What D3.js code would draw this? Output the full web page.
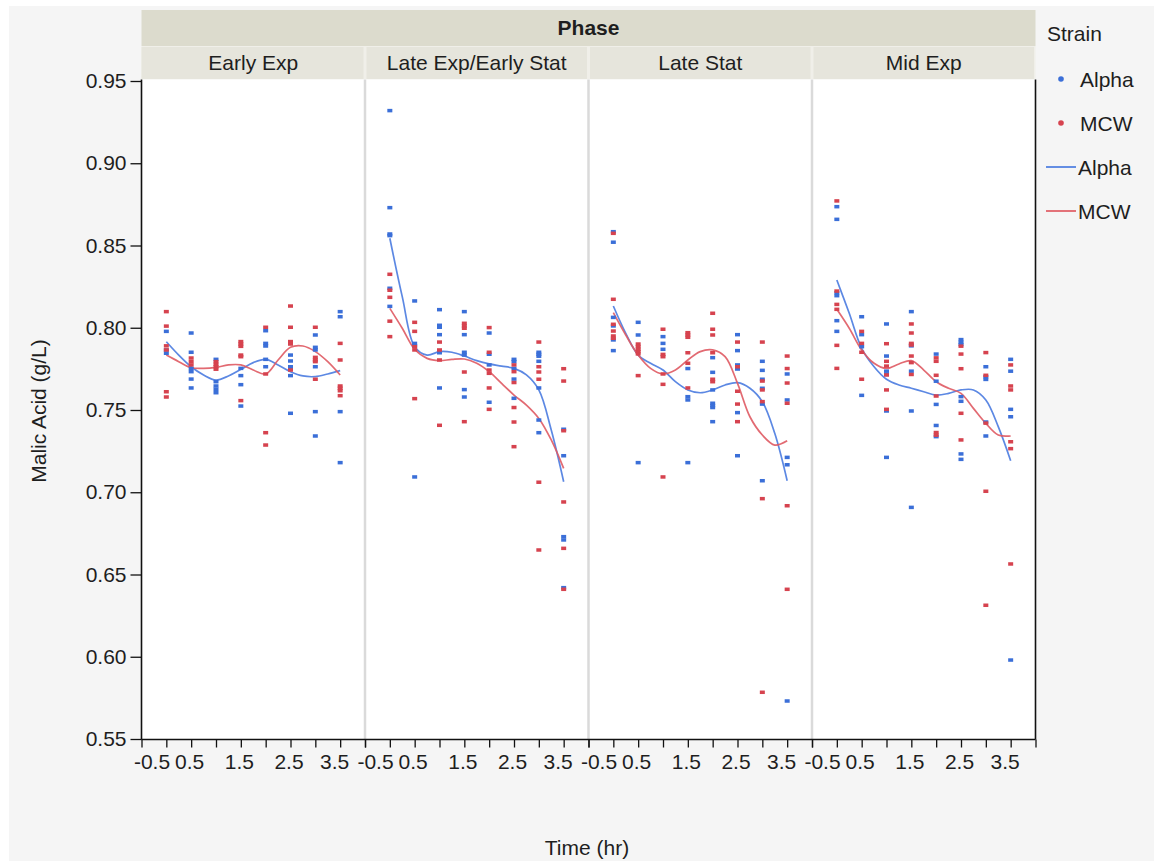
<!DOCTYPE html>
<html>
<head>
<meta charset="utf-8">
<script src="https://cdn.jsdelivr.net/npm/d3@7/dist/d3.min.js"></script>
<style>
  html, body { margin: 0; padding: 0; background: #ffffff; }
  svg text { font-family: "Liberation Sans", Arial, sans-serif; fill: #1e1e1e; }
</style>
</head>
<body>
<svg id="chart" width="1154" height="861"></svg>
<script>
// Phase panels, left to right
const phases = ["Early Exp", "Late Exp/Early Stat", "Late Stat", "Mid Exp"];
const strains = ["Alpha", "MCW"];

// Axis ticks
const xTicks = [-0.5, 0, 0.5, 1, 1.5, 2, 2.5, 3, 3.5, 4];
const xTickLabels = [-0.5, 0.5, 1.5, 2.5, 3.5];
const yTicks = [0.55, 0.60, 0.65, 0.70, 0.75, 0.80, 0.85, 0.90, 0.95];

// Observed malic acid (g/L) by time (hr): [time, [values...]]
const earlyExpAlpha = [
  [0,   [0.7978, 0.7865, 0.7845]],
  [0.5, [0.7968, 0.7851, 0.7753, 0.7733, 0.7688, 0.7634]],
  [1,   [0.7808, 0.7672, 0.7646, 0.7626, 0.7605]],
  [1.5, [0.7753, 0.7709, 0.7654, 0.7524]],
  [2,   [0.7982, 0.7905, 0.7889, 0.7808, 0.7763]],
  [2.5, [0.7834, 0.7798, 0.7763, 0.7749, 0.7709, 0.7480]],
  [3,   [0.7956, 0.7881, 0.7865, 0.7763, 0.7490, 0.7342]],
  [3.5, [0.8098, 0.8067, 0.7490, 0.7180]]
];
const earlyExpMcw = [
  [0,   [0.8098, 0.8010, 0.7890, 0.7865, 0.7611, 0.7579]],
  [0.5, [0.7816, 0.7794, 0.7774]],
  [1,   [0.7794, 0.7778, 0.7763, 0.7748]],
  [1.5, [0.7916, 0.7901, 0.7887, 0.7834, 0.7824, 0.7557]],
  [2,   [0.8003, 0.7719, 0.7362, 0.7287]],
  [2.5, [0.8132, 0.8003, 0.7916, 0.7901, 0.7743]],
  [3,   [0.8003, 0.7820, 0.7804, 0.7794, 0.7687]],
  [3.5, [0.7905, 0.7804, 0.7646, 0.7632, 0.7617, 0.7587]]
];
const lateExpAlpha = [
  [0,   [0.9320, 0.8730, 0.8570, 0.8560, 0.8240, 0.8130]],
  [0.5, [0.8163, 0.7905, 0.7890, 0.7093]],
  [1,   [0.8110, 0.8015, 0.8003, 0.7958, 0.7848, 0.7634]],
  [1.5, [0.8098, 0.7958, 0.7851, 0.7834, 0.7624, 0.7579]],
  [2,   [0.7968, 0.7839, 0.7774, 0.7547]],
  [2.5, [0.7808, 0.7794, 0.7753, 0.7688, 0.7571]],
  [3,   [0.7851, 0.7839, 0.7827, 0.7796, 0.7634, 0.7439, 0.7362]],
  [3.5, [0.7383, 0.7222, 0.6730, 0.6710, 0.6420]]
];
const lateExpMcw = [
  [0,   [0.8325, 0.8228, 0.8185, 0.8040, 0.7946]],
  [0.5, [0.8033, 0.7978, 0.7885, 0.7865, 0.7569]],
  [1,   [0.7913, 0.7865, 0.7804, 0.7407]],
  [1.5, [0.8027, 0.8011, 0.7997, 0.7731, 0.7429]],
  [2,   [0.8001, 0.7851, 0.7743, 0.7723, 0.7634, 0.7504]],
  [2.5, [0.7774, 0.7733, 0.7667, 0.7515, 0.7427, 0.7277]],
  [3,   [0.7913, 0.7763, 0.7731, 0.7687, 0.7061, 0.6649]],
  [3.5, [0.7751, 0.7676, 0.7374, 0.6941, 0.6659, 0.6410]]
];
const lateStatAlpha = [
  [0,   [0.8584, 0.8520, 0.8063, 0.8011, 0.7926, 0.7861]],
  [0.5, [0.8033, 0.7956, 0.7180]],
  [1,   [0.7946, 0.7905, 0.7869]],
  [1.5, [0.7752, 0.7581, 0.7561, 0.7180]],
  [2,   [0.7818, 0.7729, 0.7622, 0.7541, 0.7527, 0.7515, 0.7429]],
  [2.5, [0.7958, 0.7861, 0.7774, 0.7749, 0.7484, 0.7222]],
  [3,   [0.7796, 0.7741, 0.7687, 0.7632, 0.7536, 0.7070]],
  [3.5, [0.7719, 0.7561, 0.7212, 0.7167, 0.5731]]
];
const lateStatMcw = [
  [0,   [0.8574, 0.8173, 0.8021, 0.7980, 0.7950, 0.7936]],
  [0.5, [0.7901, 0.7885, 0.7869, 0.7855, 0.7841, 0.7709]],
  [1,   [0.7991, 0.7838, 0.7824, 0.7719, 0.7656, 0.7093]],
  [1.5, [0.7970, 0.7956, 0.7942, 0.7848, 0.7784, 0.7634]],
  [2,   [0.8088, 0.7991, 0.7956, 0.7848, 0.7687, 0.7672]],
  [2.5, [0.7913, 0.7763, 0.7614, 0.7536, 0.7429]],
  [3,   [0.7913, 0.7676, 0.7622, 0.7551, 0.6961, 0.5784]],
  [3.5, [0.7828, 0.7752, 0.7664, 0.7541, 0.6918, 0.6410]]
];
const midExpAlpha = [
  [0,   [0.8736, 0.8659, 0.8213, 0.8195, 0.8043, 0.7978]],
  [0.5, [0.8067, 0.7958, 0.7885, 0.7589]],
  [1,   [0.8023, 0.7828, 0.7736, 0.7716, 0.7494, 0.7212]],
  [1.5, [0.8098, 0.7890, 0.7736, 0.7494, 0.6908]],
  [2,   [0.7840, 0.7675, 0.7534, 0.7406, 0.7338]],
  [2.5, [0.7928, 0.7912, 0.7898, 0.7581, 0.7553, 0.7233, 0.7200]],
  [3,   [0.7763, 0.7702, 0.7686, 0.7427, 0.7342]],
  [3.5, [0.7808, 0.7736, 0.7504, 0.7459, 0.5980]]
];
const midExpMcw = [
  [0,   [0.8771, 0.8223, 0.8142, 0.8112, 0.7893, 0.7753]],
  [0.5, [0.7978, 0.7905, 0.7851, 0.7687]],
  [1,   [0.7903, 0.7796, 0.7767, 0.7713, 0.7622, 0.7504]],
  [1.5, [0.8023, 0.7968, 0.7905, 0.7895, 0.7828, 0.7788, 0.7716]],
  [2,   [0.7817, 0.7796, 0.7711, 0.7585, 0.7363, 0.7347]],
  [2.5, [0.7888, 0.7840, 0.7751, 0.7480, 0.7318]],
  [3,   [0.7849, 0.7711, 0.7420, 0.7006, 0.6313]],
  [3.5, [0.7774, 0.7646, 0.7622, 0.7307, 0.7265, 0.6564]]
];

// Smoothed fit, sampled at these times (hr)
const fitTimes = [0, 0.25, 0.5, 0.75, 1, 1.25, 1.5, 1.75, 2, 2.25, 2.5, 2.75, 3, 3.25, 3.5];
const earlyExpAlphaFit = [0.7915, 0.7834, 0.7763, 0.7713, 0.7682, 0.7707, 0.7747, 0.7788, 0.7808, 0.7774, 0.7733, 0.7707, 0.7703, 0.7719, 0.7739];
const earlyExpMcwFit   = [0.7834, 0.7794, 0.7757, 0.7753, 0.7759, 0.7774, 0.7774, 0.7743, 0.7719, 0.7804, 0.7881, 0.7889, 0.7855, 0.7794, 0.7713];
const lateExpAlphaFit  = [0.8544, 0.8189, 0.7885, 0.7834, 0.7855, 0.7851, 0.7828, 0.7800, 0.7780, 0.7767, 0.7753, 0.7713, 0.7622, 0.7378, 0.7064];
const lateExpMcwFit    = [0.8118, 0.7997, 0.7869, 0.7814, 0.7800, 0.7808, 0.7810, 0.7784, 0.7733, 0.7662, 0.7591, 0.7530, 0.7449, 0.7318, 0.7145];
const lateStatAlphaFit = [0.8132, 0.7966, 0.7834, 0.7784, 0.7743, 0.7672, 0.7622, 0.7605, 0.7622, 0.7652, 0.7666, 0.7632, 0.7550, 0.7358, 0.7070];
const lateStatMcwFit   = [0.8092, 0.7956, 0.7834, 0.7753, 0.7719, 0.7743, 0.7804, 0.7855, 0.7865, 0.7824, 0.7662, 0.7459, 0.7348, 0.7287, 0.7313];
const midExpAlphaFit   = [0.8290, 0.8088, 0.7875, 0.7763, 0.7687, 0.7652, 0.7632, 0.7611, 0.7591, 0.7601, 0.7622, 0.7622, 0.7561, 0.7399, 0.7192];
const midExpMcwFit     = [0.8112, 0.7997, 0.7865, 0.7784, 0.7753, 0.7780, 0.7800, 0.7743, 0.7672, 0.7632, 0.7601, 0.7510, 0.7419, 0.7348, 0.7342];

const panelPoints = [
  { Alpha: earlyExpAlpha, MCW: earlyExpMcw },
  { Alpha: lateExpAlpha,  MCW: lateExpMcw },
  { Alpha: lateStatAlpha, MCW: lateStatMcw },
  { Alpha: midExpAlpha,   MCW: midExpMcw }
];
const panelFits = [
  { Alpha: earlyExpAlphaFit, MCW: earlyExpMcwFit },
  { Alpha: lateExpAlphaFit,  MCW: lateExpMcwFit },
  { Alpha: lateStatAlphaFit, MCW: lateStatMcwFit },
  { Alpha: midExpAlphaFit,   MCW: midExpMcwFit }
];

const pointColor = { Alpha: "#3b6fd8", MCW: "#d6434f" };
const lineColor  = { Alpha: "#4a7be0", MCW: "#df5a63" };

// Layout
const W = 1154, H = 861;
const plotL = 141.5, plotR = 1035.5, plotT = 79.5, plotB = 739.5;
const panelW = (plotR - plotL) / phases.length;
const FS = 21;

// plain hyphen for negative tick values
const fmtX = d => (d < 0 ? "-" : "") + Math.abs(d).toFixed(1);

const svg = d3.select("#chart");

svg.append("rect").attr("x", 0).attr("y", 0).attr("width", W).attr("height", H).attr("fill", "#ffffff");
svg.append("rect").attr("x", 9).attr("y", 6).attr("width", W - 9).attr("height", H - 6).attr("fill", "#f5f5f5");

// Header bands
svg.append("rect").attr("x", plotL).attr("y", 10).attr("width", plotR - plotL).attr("height", 36).attr("fill", "#dcdbcd");
svg.append("text").attr("x", (plotL + plotR) / 2).attr("y", 27)
  .attr("text-anchor", "middle").attr("dominant-baseline", "central")
  .attr("font-size", FS).attr("font-weight", "bold").text("Phase");

svg.append("rect").attr("x", plotL).attr("y", 46).attr("width", plotR - plotL).attr("height", 33.5).attr("fill", "#f0efe9");

// Plot background
svg.append("rect").attr("x", plotL).attr("y", plotT).attr("width", plotR - plotL).attr("height", plotB - plotT).attr("fill", "#ffffff");

const y = d3.scaleLinear().domain([0.55, 0.95]).range([739, 81]);

phases.forEach((phase, i) => {
  const left = plotL + i * panelW;
  const x = d3.scaleLinear().domain([-0.5, 4]).range([left, left + panelW]);
  const g = svg.append("g");

  // strip label
  g.append("rect")
    .attr("x", left + (i > 0 ? 1.5 : 0)).attr("y", 47)
    .attr("width", panelW - (i > 0 ? 3 : 1.5)).attr("height", 32)
    .attr("fill", "#e6e5dc");
  g.append("text").attr("x", left + panelW / 2).attr("y", 62)
    .attr("text-anchor", "middle").attr("dominant-baseline", "central")
    .attr("font-size", FS).text(phase);

  // divider between panels
  if (i > 0) {
    g.append("line").attr("x1", left).attr("x2", left).attr("y1", plotT).attr("y2", plotB)
      .attr("stroke", "#dadada").attr("stroke-width", 2.5);
  }

  // x axis
  const xAxis = d3.axisBottom(x).tickValues(xTicks).tickSize(8).tickSizeOuter(0)
    .tickFormat(d => xTickLabels.includes(d) ? fmtX(d) : "");
  const ax = g.append("g").attr("transform", `translate(0,${plotB})`).call(xAxis);
  ax.select(".domain").remove();
  ax.selectAll(".tick line").attr("stroke", "#111").attr("stroke-width", 1.3);
  ax.selectAll(".tick text")
    .attr("font-size", FS).attr("font-family", null).attr("fill", "#1e1e1e")
    .attr("y", 15)
    .attr("dx", d => d === -0.5 ? 10 : (d === 3.5 ? -6 : -2));

  // smoothed fits
  const line = d3.line().x(d => x(d[0])).y(d => y(d[1])).curve(d3.curveCatmullRom.alpha(0.5));
  strains.forEach(s => {
    const pts = fitTimes.map((t, k) => [t, panelFits[i][s][k]]);
    g.append("path").attr("d", line(pts)).attr("fill", "none")
      .attr("stroke", lineColor[s]).attr("stroke-width", 1.7).attr("opacity", 0.9);
  });

  // observations
  strains.forEach(s => {
    const obs = panelPoints[i][s].flatMap(([t, vals]) => vals.map(v => [t, v]));
    g.selectAll(null).data(obs).enter().append("rect")
      .attr("x", d => x(d[0]) - 2.5).attr("y", d => y(d[1]) - 1.75)
      .attr("width", 5).attr("height", 3.5)
      .attr("fill", pointColor[s]);
  });
});

// frame lines
svg.append("line").attr("x1", plotL).attr("x2", plotR).attr("y1", plotB).attr("y2", plotB)
  .attr("stroke", "#111").attr("stroke-width", 1.6);
svg.append("line").attr("x1", plotR).attr("x2", plotR).attr("y1", plotT).attr("y2", plotB)
  .attr("stroke", "#111").attr("stroke-width", 1.6);

// y axis
const yAxis = d3.axisLeft(y).tickValues(yTicks).tickSize(11).tickSizeOuter(0).tickFormat(d3.format(".2f"));
const ay = svg.append("g").attr("transform", `translate(${plotL},0)`).call(yAxis);
ay.select(".domain").remove();
ay.selectAll(".tick line").attr("stroke", "#111").attr("stroke-width", 1.3);
ay.selectAll(".tick text").attr("font-size", FS).attr("font-family", null).attr("fill", "#1e1e1e").attr("x", -15);
svg.append("line").attr("x1", plotL).attr("x2", plotL).attr("y1", plotT).attr("y2", plotB)
  .attr("stroke", "#111").attr("stroke-width", 1.6);

// axis titles
svg.append("text").attr("transform", "translate(38,411) rotate(-90)")
  .attr("text-anchor", "middle").attr("dominant-baseline", "central")
  .attr("font-size", FS).text("Malic Acid (g/L)");
svg.append("text").attr("x", 587).attr("y", 847)
  .attr("text-anchor", "middle").attr("dominant-baseline", "central")
  .attr("font-size", FS).text("Time (hr)");

// legend
const lg = svg.append("g");
lg.append("text").attr("x", 1047).attr("y", 33).attr("dominant-baseline", "central").attr("font-size", FS).text("Strain");
strains.forEach((s, k) => {
  const cy = 79 + k * 44;
  lg.append("circle").attr("cx", 1061).attr("cy", cy).attr("r", 2.8).attr("fill", pointColor[s]);
  lg.append("text").attr("x", 1080).attr("y", cy).attr("dominant-baseline", "central").attr("font-size", FS).text(s);
});
strains.forEach((s, k) => {
  const cy = 167 + k * 44;
  lg.append("line").attr("x1", 1046).attr("x2", 1076).attr("y1", cy).attr("y2", cy)
    .attr("stroke", lineColor[s]).attr("stroke-width", 1.7);
  lg.append("text").attr("x", 1078).attr("y", cy).attr("dominant-baseline", "central").attr("font-size", FS).text(s);
});
</script>
</body>
</html>
